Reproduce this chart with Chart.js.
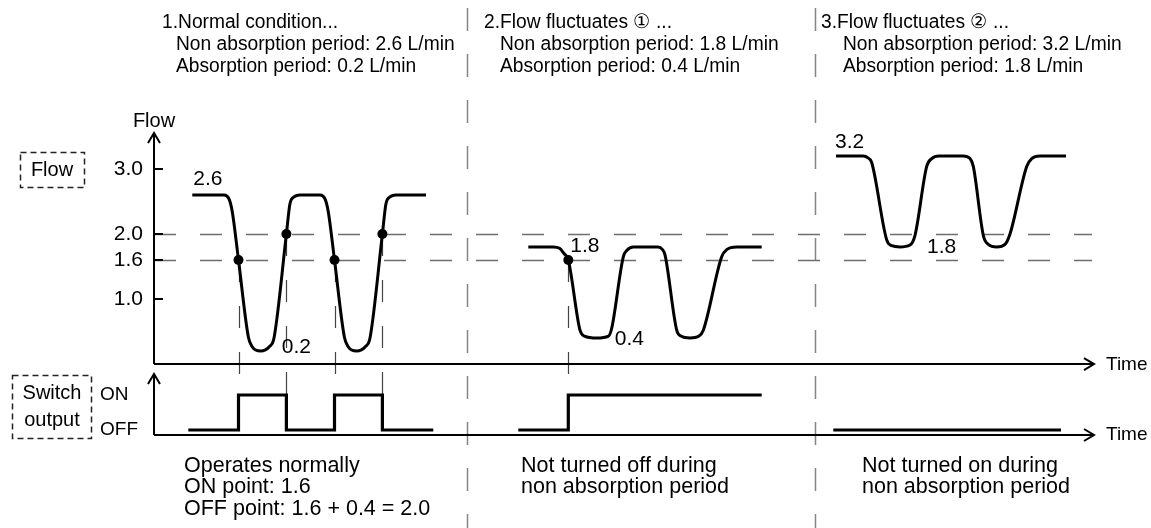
<!DOCTYPE html>
<html>
<head>
<meta charset="utf-8">
<title>Flow switch behaviour</title>
<script src="https://cdn.jsdelivr.net/npm/chart.js@4.4.1/dist/chart.umd.min.js"></script>
<style>
  html, body { margin: 0; padding: 0; background: #fff; }
  #wrap { width: 1151px; height: 528px; }
</style>
</head>
<body>
<div id="wrap"><canvas id="c" width="1151" height="528"></canvas></div>
<script>
const FONT = '"Liberation Sans", Arial, Helvetica, sans-serif';

// ---- Flow traces (time in arbitrary units, flow in L/min) ----
// 1. Normal condition
const normalTime = [3.83, 7.0, 7.5, 7.83, 8.45, 9.43, 9.8, 10.67, 11.55, 12.0, 13.24, 13.6, 14.0, 14.6,
                    16.6, 17.1, 17.43, 18.05, 19.03, 19.4, 20.27, 21.15, 21.6, 22.84, 23.2, 23.6, 24.2, 27.2];
const normalFlow = [2.6, 2.6, 2.54, 2.34, 1.6, 0.42, 0.27, 0.2, 0.27, 0.4, 2.0, 2.47, 2.57, 2.6,
                    2.6, 2.54, 2.34, 1.6, 0.42, 0.27, 0.2, 0.27, 0.4, 2.0, 2.47, 2.57, 2.6, 2.6];

// 2. Flow fluctuates (low)
const lowTime = [37.43, 39.93, 40.55, 41.0, 41.43, 42.6, 43.05, 44.27, 45.45, 45.77, 46.93, 47.3, 47.93,
                 50.4, 50.85, 51.1, 52.27, 52.7, 53.6, 54.5, 54.93, 56.77, 57.27, 58.27, 60.77];
const lowFlow = [1.8, 1.8, 1.78, 1.7, 1.6, 0.52, 0.43, 0.4, 0.43, 0.55, 1.65, 1.75, 1.8,
                 1.8, 1.76, 1.68, 0.52, 0.43, 0.4, 0.43, 0.52, 1.65, 1.76, 1.8, 1.8];

// 3. Flow fluctuates (high)
const highTime = [68.2, 70.93, 71.4, 71.77, 73.27, 73.77, 74.6, 75.6, 76.1, 77.27, 77.77, 78.5,
                  80.9, 81.6, 81.93, 82.93, 83.43, 84.27, 85.1, 85.6, 87.27, 87.77, 88.6, 91.2];
const highFlow = [3.2, 3.2, 3.17, 3.1, 1.91, 1.82, 1.8, 1.83, 1.98, 3.04, 3.16, 3.2,
                  3.2, 3.16, 3.04, 1.98, 1.84, 1.8, 1.84, 2.0, 3.04, 3.16, 3.2, 3.2];

// Switching events (flow crosses the ON / OFF point)
const eventTime = [8.45, 13.24, 18.05, 22.84, 41.43];
const eventFlow = [1.6, 2.0, 1.6, 2.0, 1.6];

// ---- Switch output (0 = OFF, 1 = ON) ----
const switchNormalTime = [3.43, 8.45, 13.24, 18.05, 22.84, 27.93];
const switchNormalState = [0, 1, 0, 1, 0, 0];
const switchLowTime = [36.43, 41.43, 60.77];
const switchLowState = [0, 1, 1];
const switchHighTime = [67.93, 90.7];
const switchHighState = [0, 0];

// ---- Axes ----
const flowTicks = [1.0, 1.6, 2.0, 3.0];
const switchPoints = [1.6, 2.0];          // ON point, OFF point
const switchTicks = [0, 1];
const switchTickLabels = ['OFF', 'ON'];
const sectionBounds = [31.3, 66.1];

const pts = (t, v) => t.map((ti, i) => ({ x: ti, y: v[i] }));
const fmt = v => v.toFixed(1);
const maxOf = a => Math.max(...a);
const minOf = a => Math.min(...a);

function curve(t, v) {
  return { type: 'line', data: pts(t, v), yAxisID: 'y', borderColor: '#000', borderWidth: 3,
           pointRadius: 0, cubicInterpolationMode: 'monotone', fill: false,
           borderJoinStyle: 'round', borderCapStyle: 'butt' };
}
function output(t, v) {
  return { type: 'line', data: pts(t, v), yAxisID: 'y2', borderColor: '#000', borderWidth: 3.2,
           pointRadius: 0, stepped: true, fill: false, borderJoinStyle: 'miter' };
}

function line(ctx, x0, y0, x1, y1) {
  ctx.beginPath(); ctx.moveTo(x0, y0); ctx.lineTo(x1, y1); ctx.stroke();
}
function txt(ctx, s, x, y, size, align = 'left', sx = 1) {
  ctx.save();
  ctx.font = size + 'px ' + FONT;
  ctx.fillStyle = '#000';
  ctx.textBaseline = 'middle';
  ctx.textAlign = align;
  ctx.translate(x, y);
  ctx.scale(sx, 1);
  ctx.fillText(s, 0, 0);
  ctx.restore();
}
function dashedBox(ctx, x0, y0, x1, y1) {
  ctx.save();
  ctx.setLineDash([6, 4]);
  ctx.lineWidth = 1.5;
  ctx.strokeStyle = '#222';
  ctx.strokeRect(x0 + 0.5, y0 + 0.5, x1 - x0, y1 - y0);
  ctx.restore();
}
function arrowUp(ctx, x, y) {
  ctx.beginPath(); ctx.moveTo(x - 6, y + 10); ctx.lineTo(x, y); ctx.lineTo(x + 6, y + 10); ctx.stroke();
}
function arrowRight(ctx, x, y) {
  ctx.beginPath(); ctx.moveTo(x - 10, y - 6); ctx.lineTo(x, y); ctx.lineTo(x - 10, y + 6); ctx.stroke();
}

const diagram = {
  id: 'diagram',
  beforeDatasetsDraw(chart) {
    const { ctx, chartArea: a, scales: { x, y, y2 } } = chart;
    ctx.save();

    // section separators
    ctx.strokeStyle = '#858585';
    ctx.lineWidth = 1.5;
    ctx.setLineDash([23, 23]);
    for (const t of sectionBounds) {
      const px = Math.round(x.getPixelForValue(t)) + 0.5;
      line(ctx, px, 8, px, chart.height);
    }

    // ON / OFF point guides
    ctx.strokeStyle = '#6e6e6e';
    ctx.lineWidth = 1.3;
    ctx.setLineDash([22, 24]);
    for (const v of switchPoints) {
      const py = Math.round(y.getPixelForValue(v)) + 0.5;
      line(ctx, a.left, py, a.right - 2, py);
    }

    // drop lines from switching events to the output trace
    ctx.strokeStyle = '#444';
    ctx.lineWidth = 1.2;
    const onY = y2.getPixelForValue(1);
    eventTime.forEach((t, i) => {
      const px = Math.round(x.getPixelForValue(t)) + 0.5;
      line(ctx, px, y.getPixelForValue(eventFlow[i]), px, onY);
    });

    // axes
    ctx.setLineDash([]);
    ctx.strokeStyle = '#000';
    ctx.lineWidth = 2;
    const y0 = y.getPixelForValue(0);
    line(ctx, a.left, y0, a.left, a.top);
    arrowUp(ctx, a.left, a.top);
    line(ctx, a.left, y0, a.right, y0);
    arrowRight(ctx, a.right, y0);
    for (const v of flowTicks) {
      const py = y.getPixelForValue(v);
      line(ctx, a.left, py, a.left + 9, py);
    }
    const sTop = y2.getPixelForValue(1.6);
    line(ctx, a.left, a.bottom, a.left, sTop);
    arrowUp(ctx, a.left, sTop);
    line(ctx, a.left, a.bottom, a.right, a.bottom);
    arrowRight(ctx, a.right, a.bottom);
    ctx.restore();
  },
  afterDraw(chart) {
    const { ctx, chartArea: a, scales: { x, y } } = chart;
    ctx.save();

    // axis captions
    txt(ctx, 'Flow', a.left, 121, 20, 'center');
    txt(ctx, 'Time', a.right + 12, y.getPixelForValue(0) + 1, 19);
    txt(ctx, 'Time', a.right + 12, a.bottom, 19);

    // panel captions
    dashedBox(ctx, 20, 152, 84, 187);
    txt(ctx, 'Flow', 52, 170, 20, 'center');
    dashedBox(ctx, 12, 375, 91, 438);
    txt(ctx, 'Switch', 52, 393, 20, 'center');
    txt(ctx, 'output', 52, 420, 20, 'center');

    // section headings
    const heads = [
      ['1.Normal condition...', normalFlow, 162, 176],
      ['2.Flow fluctuates \u2460 ...', lowFlow, 484, 500],
      ['3.Flow fluctuates \u2461 ...', highFlow, 821, 843]
    ];
    for (const [title, flow, hx, lx] of heads) {
      txt(ctx, title, hx, 22, 20, 'left', 0.96);
      txt(ctx, 'Non absorption period: ' + fmt(maxOf(flow)) + ' L/min', lx, 44, 20, 'left', 0.96);
      txt(ctx, 'Absorption period: ' + fmt(minOf(flow)) + ' L/min', lx, 66, 20, 'left', 0.96);
    }

    // level readings on the traces
    const X = t => x.getPixelForValue(t);
    const Y = v => y.getPixelForValue(v);
    const trough = (t, v) => t[v.indexOf(minOf(v))];
    txt(ctx, fmt(maxOf(normalFlow)), X(normalTime[0]) + 1, Y(maxOf(normalFlow)) - 16, 21);
    txt(ctx, fmt(minOf(normalFlow)), X(trough(normalTime, normalFlow)) + 21, Y(minOf(normalFlow)) - 4, 21);
    txt(ctx, fmt(maxOf(lowFlow)), X(eventTime[4]) + 2, Y(maxOf(lowFlow)) - 1, 21);
    txt(ctx, fmt(minOf(lowFlow)), X(trough(lowTime, lowFlow)) + 18, Y(minOf(lowFlow)) + 1, 21);
    txt(ctx, fmt(maxOf(highFlow)), X(highTime[0]) - 1, Y(maxOf(highFlow)) - 14, 21);
    txt(ctx, fmt(minOf(highFlow)), X(trough(highTime, highFlow)) + 27, Y(minOf(highFlow)), 21);

    // notes
    txt(ctx, 'Operates normally', 184, 466, 21.5);
    txt(ctx, 'ON point: ' + fmt(switchPoints[0]), 184, 487, 21.5);
    txt(ctx, 'OFF point: ' + fmt(switchPoints[0]) + ' + ' + fmt(switchPoints[1] - switchPoints[0]) + ' = ' + fmt(switchPoints[1]), 184, 509, 21.5);
    txt(ctx, 'Not turned off during', 521, 466, 21.5);
    txt(ctx, 'non absorption period', 521, 487, 21.5);
    txt(ctx, 'Not turned on during', 862, 466, 21.5);
    txt(ctx, 'non absorption period', 862, 487, 21.5);
    ctx.restore();
  }
};

new Chart(document.getElementById('c'), {
  type: 'line',
  data: {
    datasets: [
      curve(normalTime, normalFlow),
      curve(lowTime, lowFlow),
      curve(highTime, highFlow),
      output(switchNormalTime, switchNormalState),
      output(switchLowTime, switchLowState),
      output(switchHighTime, switchHighState),
      { type: 'scatter', data: pts(eventTime, eventFlow), yAxisID: 'y', pointRadius: 5,
        backgroundColor: '#000', borderWidth: 0, showLine: false }
    ]
  },
  options: {
    responsive: false,
    animation: false,
    events: [],
    layout: { padding: { left: 100, right: 57, top: 133, bottom: 93 } },
    plugins: { legend: { display: false }, tooltip: { enabled: false } },
    scales: {
      x: { type: 'linear', display: false, min: 0, max: 94 },
      y: {
        type: 'linear', position: 'left', weight: 1, min: -1.092, max: 3.554,
        afterBuildTicks: s => { s.ticks = flowTicks.map(v => ({ value: v })); },
        afterFit: s => { s.width = 54; },
        grid: { display: false, drawTicks: false },
        border: { display: false },
        ticks: { autoSkip: false, padding: 11, color: '#000',
                 font: { family: FONT, size: 21 }, callback: v => fmt(v) }
      },
      y2: {
        type: 'linear', position: 'left', weight: 0, min: -0.143, max: 8.486,
        afterBuildTicks: s => { s.ticks = switchTicks.map(v => ({ value: v })); },
        afterFit: s => { s.width = 0; },
        grid: { display: false, drawTicks: false },
        border: { display: false },
        ticks: { autoSkip: false, mirror: true, padding: -54, crossAlign: 'near', color: '#000',
                 font: { family: FONT, size: 19 },
                 callback: v => switchTickLabels[switchTicks.indexOf(v)] }
      }
    }
  },
  plugins: [diagram]
});
</script>
</body>
</html>
